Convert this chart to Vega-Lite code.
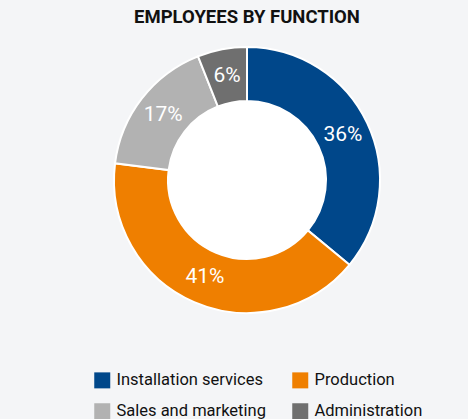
{
  "$schema": "https://vega.github.io/schema/vega-lite/v6.json",
  "width": 400,
  "height": 300,
  "autosize": {"type": "none"},
  "padding": {"left": 47, "top": 30, "right": 21, "bottom": 89},
  "background": "#f4f5f7",
  "config": {"view": {"stroke": null}, "font": "Roboto"},
  "title": {"text": "EMPLOYEES BY FUNCTION", "fontSize": 18.5, "fontWeight": "bold", "color": "#111111", "offset": 4, "anchor": "middle", "font": "Roboto"},
  "layer": [
    {
      "data": {"values": [{"hole": 1}]},
      "mark": {"type": "arc", "radius": 80, "fill": "white"},
      "encoding": {"theta": {"field": "hole", "type": "quantitative"}}
    },
    {
      "data": {"values": [
        {"function": "Installation services", "share": 36, "label": "36%", "idx": 1},
        {"function": "Production", "share": 41, "label": "41%", "idx": 2},
        {"function": "Sales and marketing", "share": 17, "label": "17%", "idx": 3},
        {"function": "Administration", "share": 6, "label": "6%", "idx": 4}
      ]},
      "encoding": {
        "theta": {"field": "share", "type": "quantitative", "stack": true},
        "order": {"field": "idx", "type": "quantitative"}
      },
      "layer": [
        {
          "mark": {"type": "arc", "radius": 133, "radius2": 79, "stroke": "white", "strokeWidth": 2},
          "encoding": {
            "color": {
              "field": "function", "type": "nominal",
              "scale": {"domain": ["Installation services", "Production", "Sales and marketing", "Administration"], "range": ["#00478a", "#ef7f00", "#b2b2b2", "#6f6f6f"]},
              "legend": {
                "orient": "none", "legendX": 47, "legendY": 342, "direction": "horizontal", "columns": 2,
                "title": null, "symbolType": "square", "symbolSize": 256, "symbolStrokeWidth": 0,
                "labelFontSize": 16.5, "labelColor": "#111111", "labelFont": "Roboto", "columnPadding": 26, "rowPadding": 14, "symbolOffset": 0, "labelOffset": 6
              }
            }
          }
        },
        {
          "mark": {"type": "text", "radius": 106, "fontSize": 21, "color": "white", "font": "Roboto"},
          "encoding": {"text": {"field": "label", "type": "nominal"}}
        }
      ]
    }
  ],
  "resolve": {"scale": {"theta": "independent"}}
}
